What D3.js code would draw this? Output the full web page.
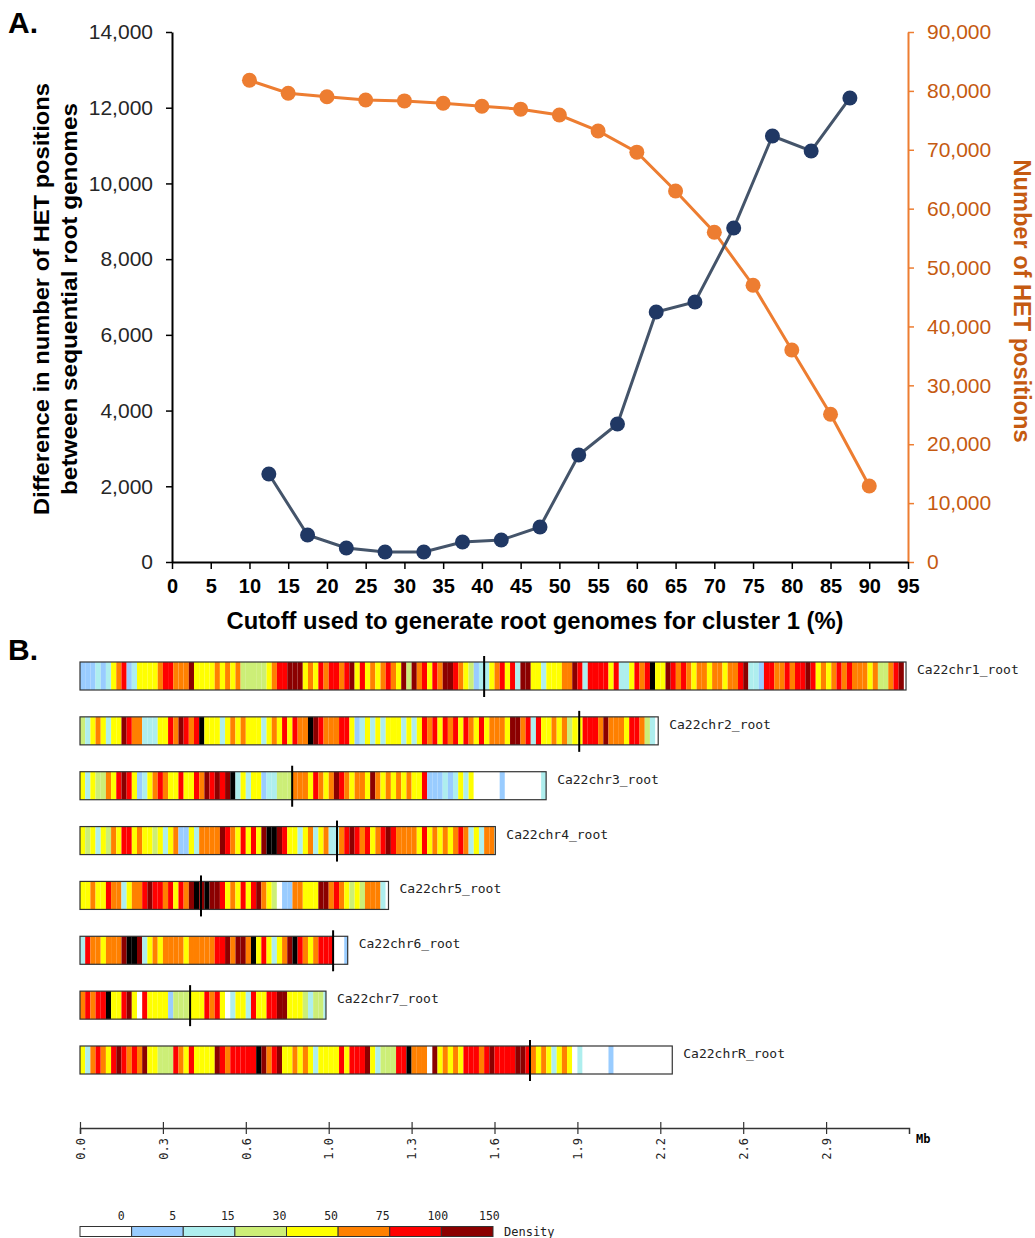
<!DOCTYPE html>
<html><head><meta charset="utf-8">
<script src="https://cdn.jsdelivr.net/npm/d3@7"></script>
<style>body{margin:0;background:#fff}</style>
</head><body>
<svg id="chart" width="1035" height="1238"></svg>
<script>
// ---------- Panel A data ----------
const cutoffDiff = [12.5,17.5,22.5,27.5,32.5,37.5,42.5,47.5,52.5,57.5,62.5,67.5,72.5,77.5,82.5,87.5];
const diffValues = [2324,713,370,264,264,528,581,925,2826,3645,6604,6868,8823,11253,10857,12257];
const cutoffHet = [10,15,20,25,30,35,40,45,50,55,60,65,70,75,80,85,90];
const hetValues = [81800,79600,79000,78450,78300,77900,77400,76900,75900,73200,69600,63000,56000,47000,36000,25100,12900];
const xTickValues = [0,5,10,15,20,25,30,35,40,45,50,55,60,65,70,75,80,85,90,95];
const leftTickValues = [0,2000,4000,6000,8000,10000,12000,14000];
const rightTickValues = [0,10000,20000,30000,40000,50000,60000,70000,80000,90000];

// ---------- Panel B data ----------
const chromNames = ["Ca22chr1_root","Ca22chr2_root","Ca22chr3_root","Ca22chr4_root","Ca22chr5_root","Ca22chr6_root","Ca22chr7_root","Ca22chrR_root"];
const chromLengths = [3.1885,2.2319,1.7993,1.6033,1.1908,1.0333,0.9495,2.2862]; // Mb
const centromeres = [1.560,1.927,0.819,0.992,0.467,0.977,0.425,1.737]; // Mb
const binSizeMb = 0.02;
// density class per 20 kb bin: 0 white,1 "0-5",2 "5-15",3 "15-30",4 "30-50",5 "50-75",6 "75-100",7 "100-150",8 ">150"
const densityBins = [
  "111212456124444566555744445454533333456677745465665674645456547375646577654312245646277442444557626666462246568447656545545545567221665565667645456565554533567",
  "324542447655222446576568444245454442454646558765556641242424442424656465646546455547756264454534466657555466532",
  "424335467641245654464465767678242441223335554654576545547545454544611121242400000100000002",
  "434243546645443424511425555765464647887644245245225676564567655554645454565242552",
  "445446552455676656465787877645464675430115544477565434355520",
  "2655455578872454555545555566757758464245786545666001",
  "565668446740644441333444656402442644667744432332",
  "4256546765657443336546444476566666875674454542444464666742333668555074545466656766667765454245402000001000000000000"
];
const densityColors = ["#FFFFFF","#99CCFF","#AEEEEE","#CCEE77","#FFFF00","#FF8000","#FF0000","#8B0000","#000000"];
const mbTickValues = [0,0.32,0.64,0.96,1.28,1.60,1.92,2.24,2.56,2.88];
const mbTickLabels = ["0.0","0.3","0.6","1.0","1.3","1.6","1.9","2.2","2.6","2.9"];
const legendLabels = ["0","5","15","30","50","75","100","150"];
const legendColors = ["#FFFFFF","#99CCFF","#AEEEEE","#CCEE77","#FFFF00","#FF8000","#FF0000","#8B0000"];

// ---------- Drawing ----------
const svg = d3.select("#chart");
const SANS = "Arial, 'Liberation Sans', Helvetica, sans-serif";
const NARROW = "'Liberation Sans Narrow','Arial Narrow', Arial, sans-serif";
const MONO = "'DejaVu Sans Mono','Liberation Mono', monospace";
const ORANGE = "#ED7D31", ORANGE_TXT = "#C55A11";

svg.append("text").attr("x",8).attr("y",33).text("A.")
  .style("font-family",SANS).style("font-weight","bold").style("font-size","30px");
svg.append("text").attr("x",8).attr("y",660).text("B.")
  .style("font-family",SANS).style("font-weight","bold").style("font-size","30px");

const xA = d3.scaleLinear().domain([0,95]).range([172,908]);
const yL = d3.scaleLinear().domain([0,14000]).range([562,32]);
const yR = d3.scaleLinear().domain([0,90000]).range([562,32]);

// left axis
const gL = svg.append("g").attr("transform","translate(172,0)")
  .call(d3.axisLeft(yL).tickValues(leftTickValues).tickFormat(d3.format(",")).tickSize(6).tickSizeOuter(0).tickPadding(13));
gL.select(".domain").attr("stroke","#000").attr("stroke-width",2);
gL.selectAll(".tick line").attr("stroke","#000").attr("stroke-width",1.5);
gL.selectAll("text").style("font-family",SANS).style("font-size","21px").attr("fill","#262626");

// right axis
const gR = svg.append("g").attr("transform","translate(908,0)")
  .call(d3.axisRight(yR).tickValues(rightTickValues).tickFormat(d3.format(",")).tickSize(6).tickSizeOuter(0).tickPadding(13));
gR.select(".domain").attr("stroke",ORANGE).attr("stroke-width",2);
gR.selectAll(".tick line").attr("stroke",ORANGE).attr("stroke-width",1.5);
gR.selectAll("text").style("font-family",SANS).style("font-size","21px").attr("fill",ORANGE_TXT);

// bottom axis
const gX = svg.append("g").attr("transform","translate(0,562)")
  .call(d3.axisBottom(xA).tickValues(xTickValues).tickSize(7).tickSizeOuter(0).tickPadding(10));
gX.select(".domain").attr("stroke","#000").attr("stroke-width",2);
gX.selectAll(".tick line").attr("stroke","#000").attr("stroke-width",1.5);
gX.selectAll("text").style("font-family",NARROW).style("font-weight","bold").style("font-size","20px").attr("fill","#000");

// axis titles
svg.append("text").attr("transform","translate(535,629)").attr("text-anchor","middle")
  .attr("textLength",617).attr("lengthAdjust","spacingAndGlyphs")
  .text("Cutoff used to generate root genomes for cluster 1 (%)")
  .style("font-family",NARROW).style("font-weight","bold").style("font-size","23px");
const lt = svg.append("text").attr("transform","translate(49,299) rotate(-90)").attr("text-anchor","middle")
  .style("font-family",SANS).style("font-weight","bold").style("font-size","22px").attr("fill","#000");
lt.append("tspan").attr("x",0).attr("dy",0).attr("textLength",432).attr("lengthAdjust","spacingAndGlyphs")
  .text("Difference in number of HET positions");
lt.append("tspan").attr("x",0).attr("dy",28).attr("textLength",392).attr("lengthAdjust","spacingAndGlyphs")
  .text("between sequential root genomes");
svg.append("text").attr("transform","translate(1014,301) rotate(90)").attr("text-anchor","middle")
  .attr("textLength",283).attr("lengthAdjust","spacingAndGlyphs")
  .text("Number of HET positions")
  .style("font-family",SANS).style("font-weight","bold").style("font-size","23px").attr("fill",ORANGE_TXT);

// orange series
const hetData = cutoffHet.map((c,i)=>({x:c,y:hetValues[i]}));
svg.append("path").datum(hetData)
  .attr("d", d3.line().x(d=>xA(d.x)).y(d=>yR(d.y)))
  .attr("fill","none").attr("stroke",ORANGE).attr("stroke-width",3);
svg.selectAll(".hetpt").data(hetData).join("circle").attr("class","hetpt")
  .attr("cx",d=>xA(d.x)).attr("cy",d=>yR(d.y)).attr("r",7.5).attr("fill",ORANGE);

// blue series
const diffData = cutoffDiff.map((c,i)=>({x:c,y:diffValues[i]}));
svg.append("path").datum(diffData)
  .attr("d", d3.line().x(d=>xA(d.x)).y(d=>yL(d.y)))
  .attr("fill","none").attr("stroke","#44546A").attr("stroke-width",3);
svg.selectAll(".diffpt").data(diffData).join("circle").attr("class","diffpt")
  .attr("cx",d=>xA(d.x)).attr("cy",d=>yL(d.y)).attr("r",7.5).attr("fill","#203864");

// ---------- Panel B ----------
const xB = d3.scaleLinear().domain([0,3.2]).range([80,909]);
const yB = d3.scalePoint().domain(chromNames).range([662,1046]);
const barH = 28;

chromNames.forEach((name,i)=>{
  const y0 = yB(name);
  const len = chromLengths[i];
  const bins = densityBins[i].split("").map(Number);
  const g = svg.append("g");
  g.selectAll("rect.bin").data(bins).join("rect").attr("class","bin")
    .attr("x",(d,j)=>xB(j*binSizeMb))
    .attr("width",(d,j)=>Math.max(0, xB(Math.min((j+1)*binSizeMb,len)) - xB(j*binSizeMb)))
    .attr("y",y0).attr("height",barH)
    .attr("fill",d=>densityColors[d]);
  g.append("rect").attr("x",xB(0)).attr("y",y0).attr("width",xB(len)-xB(0)).attr("height",barH)
    .attr("fill","none").attr("stroke","#333").attr("stroke-width",1.2);
  g.append("line").attr("x1",xB(centromeres[i])).attr("x2",xB(centromeres[i]))
    .attr("y1",y0-6).attr("y2",y0+barH+7).attr("stroke","#000").attr("stroke-width",2);
  g.append("text").attr("x",xB(len)+11).attr("y",y0+12).text(name)
    .style("font-family",MONO).style("font-size","13px").attr("fill","#222");
});

// Mb axis
const gB = svg.append("g").attr("transform","translate(0,1128)")
  .call(d3.axisBottom(xB).tickValues(mbTickValues).tickFormat((d,i)=>mbTickLabels[i]).tickSizeOuter(0).tickSize(6));
gB.select(".domain").attr("stroke","#333").attr("stroke-width",1.5);
gB.selectAll(".tick line").attr("y1",-6).attr("y2",6).attr("stroke","#333").attr("stroke-width",1.2);
gB.selectAll(".tick text").attr("transform","rotate(-90)").attr("text-anchor","end")
  .attr("x",-10).attr("y",0).attr("dy","0.35em")
  .style("font-family",MONO).style("font-size","12px").attr("fill","#222");
svg.append("text").attr("x",916).attr("y",1143).text("Mb")
  .style("font-family",MONO).style("font-weight","bold").style("font-size","12px");

// legend
const xLeg = d3.scaleBand().domain(legendLabels).range([80,493]);
const gLeg = svg.append("g");
gLeg.selectAll("rect").data(legendLabels).join("rect")
  .attr("x",d=>xLeg(d)).attr("y",1226.5).attr("width",xLeg.bandwidth()).attr("height",10)
  .attr("fill",(d,i)=>legendColors[i]).attr("stroke","#333").attr("stroke-width",1);
gLeg.selectAll("text").data(legendLabels).join("text")
  .attr("x",d=>xLeg(d)+xLeg.bandwidth()-14).attr("y",1220).text(d=>d)
  .style("font-family",MONO).style("font-size","11.5px").attr("fill","#222");
svg.append("text").attr("x",504).attr("y",1236).text("Density")
  .style("font-family",MONO).style("font-size","12px").attr("fill","#222");
</script>
</body></html>
